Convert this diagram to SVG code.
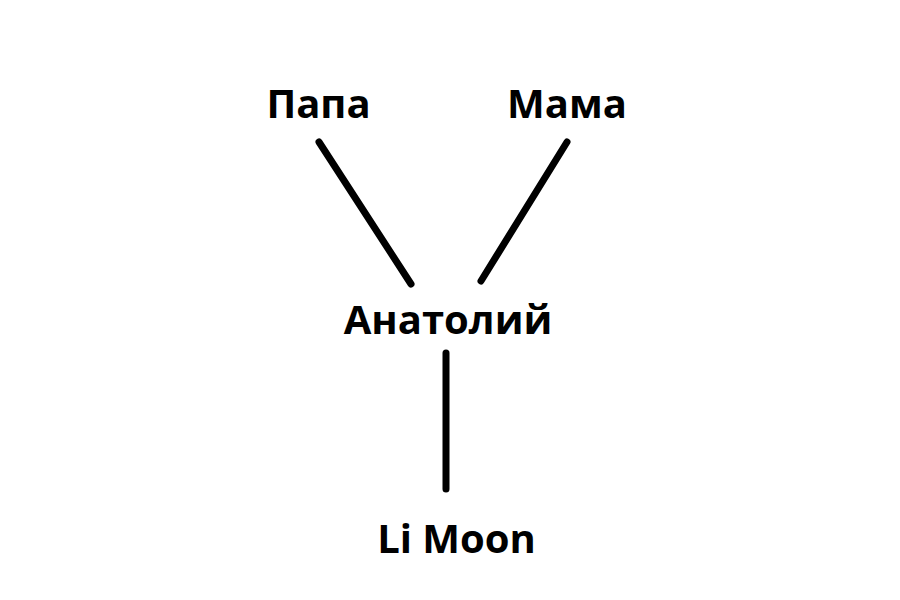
<svg xmlns="http://www.w3.org/2000/svg" width="900" height="600" viewBox="0 0 900 600">
<style>
.lbl{font-family:"Open Sans","DejaVu Sans",sans-serif;font-weight:bold;font-size:40px;fill:#000;text-anchor:middle}
.edge{stroke:#000;stroke-width:7;stroke-linecap:round;fill:none}
</style>
<rect width="900" height="600" fill="#fff"/>
<g id="connectors">
<line class="edge" x1="319" y1="142" x2="411" y2="284"/>
<line class="edge" x1="567" y1="142" x2="481" y2="281"/>
<line class="edge" x1="446" y1="353" x2="446" y2="489"/>
</g>
<g id="papa"><text class="lbl" x="318.5" y="118">Папа</text></g>
<g id="mama"><text class="lbl" x="567" y="118">Мама</text></g>
<g id="anatoliy"><text class="lbl" x="448" y="334">Анатолий</text></g>
<g id="limoon"><text class="lbl" x="456.5" y="553">Li Moon</text></g>
</svg>
